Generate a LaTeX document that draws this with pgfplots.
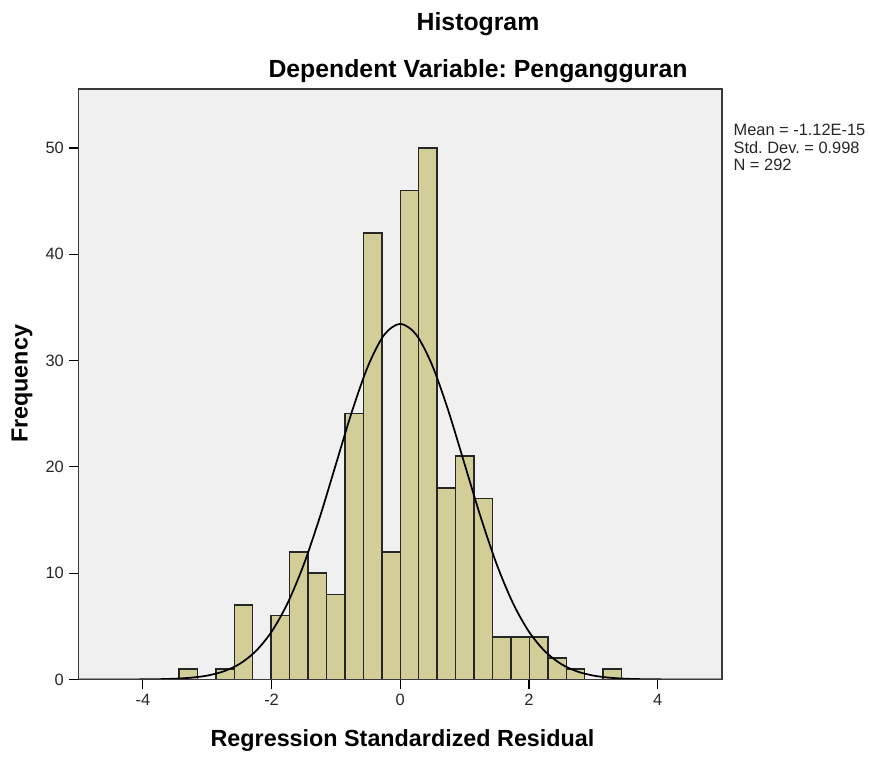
\documentclass[border=0pt]{standalone}
\usepackage{pgfplots}
\pgfplotsset{compat=1.18}
\usepackage{fontspec}
\setmainfont{Liberation Sans}
\frenchspacing
\definecolor{barfill}{HTML}{D3CE97}
\definecolor{bgc}{HTML}{F0F0F0}
\definecolor{framec}{HTML}{3A3A3A}
\definecolor{baredge}{HTML}{262626}
\begin{document}
\begin{tikzpicture}[x=1pt,y=1pt]
\useasboundingbox (0,0) rectangle (652.5,567);
\begin{axis}[
  at={(58.9pt,57.4pt)}, anchor=south west,
  scale only axis, width=482.6pt, height=442.9pt,
  xmin=-5, xmax=5, ymin=0, ymax=55.55,
  axis background/.style={fill=bgc},
  axis line style={draw=framec, line width=1.1pt},
  axis on top,
  xtick={-4,-2,0,2,4}, xticklabels={-4,-2,0,2,4},
  ytick={0,10,20,30,40,50}, yticklabels={0,10,20,30,40,50},
  tick align=outside, major tick length=7.5pt,
  tick style={draw=black, line width=0.9pt},
  xtick pos=bottom, ytick pos=left,
  ticklabel style={font=\fontsize{12.3}{14}\selectfont, text=black!85},
]
\addplot[ybar interval, fill=barfill, draw=baredge, line width=1.1pt] coordinates {
(-3.4392,1) (-3.1526,0) (-2.866,1) (-2.5794,7) (-2.2928,0) (-2.0062,6)
(-1.7196,12) (-1.433,10) (-1.1464,8) (-0.8598,25) (-0.5732,42) (-0.2866,12)
(0,46) (0.2866,50) (0.5732,18) (0.8598,21) (1.1464,17) (1.433,4)
(1.7196,4) (2.0062,4) (2.2928,2) (2.5794,1) (2.866,0) (3.1526,1) (3.4392,0)
};
\addplot[smooth, black, line width=1.3pt, mark=none] coordinates {
(-5,0) (-4.5,0.0013) (-4,0.0109) (-3.75,0.0287) (-3.5,0.0714) (-3.25,0.1667)
(-3,0.365) (-2.75,0.751) (-2.5,1.452) (-2.25,2.636) (-2,4.49) (-1.75,7.19)
(-1.5,10.81) (-1.25,15.27) (-1,20.25) (-0.75,25.22) (-0.5,29.50) (-0.25,32.42)
(0,33.45)
(0.25,32.42) (0.5,29.50) (0.75,25.22) (1,20.25) (1.25,15.27) (1.5,10.81)
(1.75,7.19) (2,4.49) (2.25,2.636) (2.5,1.452) (2.75,0.751) (3,0.365)
(3.25,0.1667) (3.5,0.0714) (3.75,0.0287) (4,0.0109) (4.5,0.0013) (5,0)
};
\end{axis}
\node[anchor=base, font=\bfseries\fontsize{18.6}{21}\selectfont] at (358.5,544) {Histogram};
\node[anchor=base, font=\bfseries\fontsize{18.6}{21}\selectfont] at (358.5,508.5) {Dependent Variable: Pengangguran};
\node[anchor=base, font=\bfseries\fontsize{17.5}{20}\selectfont] at (301.9,7.5) {Regression Standardized Residual};
\node[anchor=center, rotate=90, font=\bfseries\fontsize{17.5}{20}\selectfont] at (16.5,279) {Frequency};
\node[anchor=base west, font=\fontsize{12.3}{13}\selectfont, text=black!85, inner sep=0pt] at (550,465) {Mean = -1.12E-15};
\node[anchor=base west, font=\fontsize{12.3}{13}\selectfont, text=black!85, inner sep=0pt] at (550,451.9) {Std. Dev. = 0.998};
\node[anchor=base west, font=\fontsize{12.3}{13}\selectfont, text=black!85, inner sep=0pt] at (550,438.75) {N = 292};
\end{tikzpicture}
\end{document}
